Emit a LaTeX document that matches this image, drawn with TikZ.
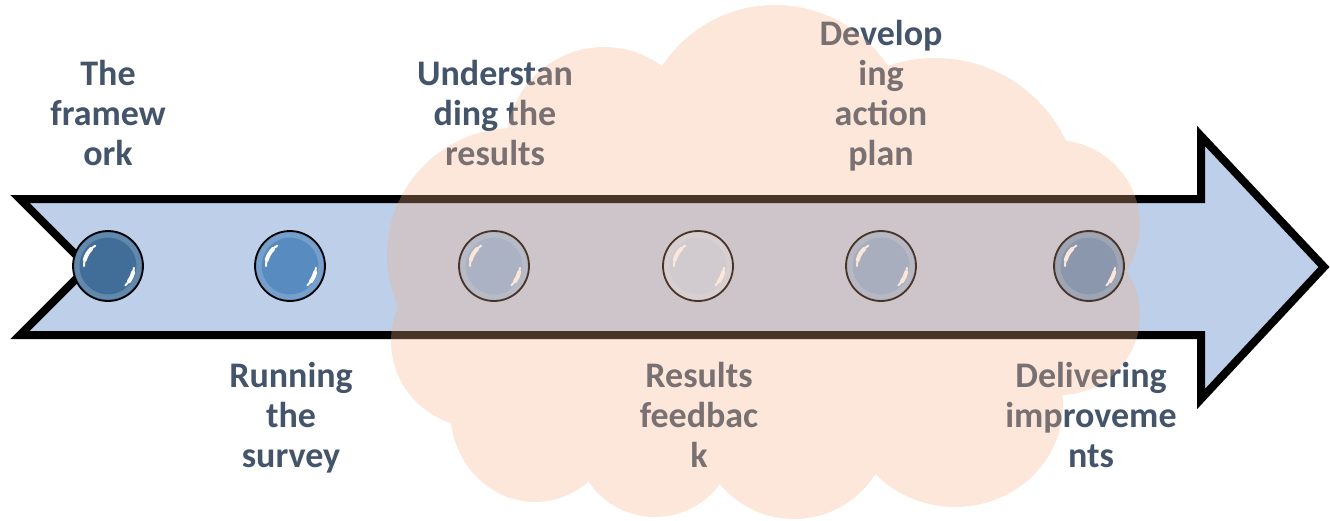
\documentclass[tikz,border=0pt]{standalone}
\usepackage{fontspec}
\setmainfont{Carlito}
\usetikzlibrary{calc}
\definecolor{arrowfill}{RGB}{189,207,233}
\definecolor{txt}{RGB}{68,84,106}
\definecolor{cloudc}{RGB}{244,177,131}
\definecolor{bcA}{RGB}{64,110,153}
\definecolor{bcB}{RGB}{88,140,192}
\definecolor{bcC}{RGB}{139,179,223}
\definecolor{bcD}{RGB}{195,214,240}
\definecolor{bcE}{RGB}{136,174,216}
\definecolor{bcF}{RGB}{95,140,190}
\tikzset{
  arrowbody/.style={fill=arrowfill, draw=black, line width=8pt, miter limit=10},
  ball/.style={circle, minimum size=70pt, inner sep=0pt, draw=black, line width=1.8pt},
  lbl/.style={font=\bfseries\fontsize{36}{40}\selectfont, text=txt, align=center, anchor=base, inner sep=0pt},
  cloudfill/.style={fill=cloudc, fill opacity=0.3},
  hlthin/.style={draw=white, line width=2pt, line cap=round},
  hlthick/.style={draw=white, line width=4pt, line cap=round},
  rim/.style={draw=white, draw opacity=0.18, line width=5pt}
}
\begin{document}
\begin{tikzpicture}[x=1pt,y=-1pt]
\useasboundingbox (0,0) rectangle (1330,520);
% arrow
\draw[arrowbody] (20,199) -- (1201,199) -- (1201,136) -- (1324,267) -- (1201,399) -- (1201,335) -- (20,335) -- (88,267) -- cycle;
% balls
\node[ball, fill=bcA] (b1) at (108,266) {};
\node[ball, fill=bcB] (b2) at (290,266) {};
\node[ball, fill=bcC] (b3) at (494,266) {};
\node[ball, fill=bcD] (b4) at (698,266) {};
\node[ball, fill=bcE] (b5) at (881,266) {};
\node[ball, fill=bcF] (b6) at (1089,266) {};
\foreach \b in {b1,b2,b3,b4,b5,b6}{
  \draw[rim] (\b) circle[radius=31];
  \draw[hlthin] ($(\b)+(-122:24)$) arc[start angle=-122, end angle=-180, radius=24];
  \draw[hlthick] ($(\b)+(-135:24)$) arc[start angle=-135, end angle=-165, radius=24];
  \draw[hlthin] ($(\b)+(4:26)$) arc[start angle=4, end angle=48, radius=26];
  \draw[hlthick] ($(\b)+(14:26)$) arc[start angle=14, end angle=36, radius=26];
}
% labels (anchor = baseline of last line)
\node[lbl] (t1) at (108,165) {The\\framew\\ork};
\node[lbl] (t2) at (291,467) {Running\\the\\survey};
\node[lbl] (t3) at (495,165) {Understan\\ding the\\results};
\node[lbl] (t4) at (699,467) {Results\\feedbac\\k};
\node[lbl] (t5) at (881,165) {Develop\\ing\\action\\plan};
\node[lbl] (t6) at (1091,467) {Delivering\\improveme\\nts};
% cloud overlay
\fill[cloudfill]
  (514,255) circle[radius=127]
  (477,341) circle[radius=86]
  (604,145) circle[radius=98]
  (775,140) circle[radius=135]
  (935,203) circle[radius=145]
  (1055,225) circle[radius=85]
  (1060,315) circle[radius=80]
  (955,405) ellipse[x radius=108, y radius=102]
  (794,423) circle[radius=96]
  (655,437) circle[radius=80]
  (535,410) ellipse[x radius=85, y radius=92]
  (765,275) ellipse[x radius=330, y radius=190];
\end{tikzpicture}
\end{document}
